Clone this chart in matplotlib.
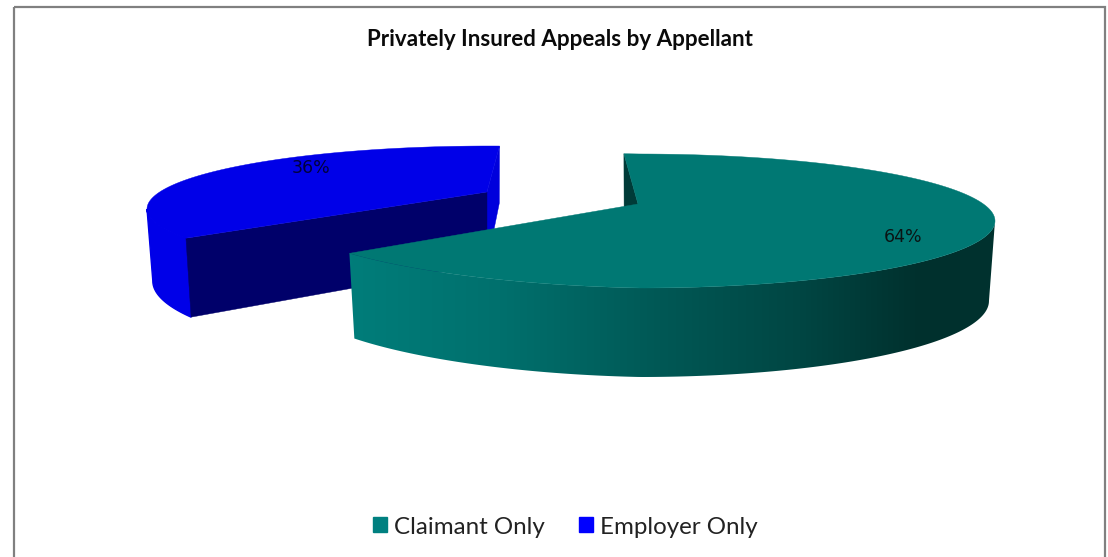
"""Privately insured appeals, 3D looking pie
"""
import numpy as np
import matplotlib
matplotlib.use('Agg')
import matplotlib.pyplot as plt
from matplotlib.patches import Patch, Polygon, Rectangle

categories = ['Claimant Only', 'Employer Only']
shares = [64, 36]
title = 'Privately Insured Appeals by Appellant'

# Look of each slice (centre, radii, rotation of the rim, wall height)
claimant_style = dict(cx=640, cy=221, rx=355, ry=67, apex=(638, 204), start=-2.6, stretch=1.031,
                      wall_mid=80, wall_amp=9, apex_wall=75, left_lift=7.5)
employer_style = dict(cx=489, cy=209, rx=342, ry=63, apex=(487, 192), start=242.4, stretch=0.921,
                      wall_mid=72, wall_amp=15, apex_wall=72, left_lift=0)
shrink = 0.983

teal_top = '#007873'
teal_cut = '#003b38'
teal_legend = '#008080'
blue_top = '#0000e8'
blue_end = '#0000dc'
navy = '#00006a'

# shade of the teal wall along the screen x axis
shade_x = [340, 500, 660, 800, 920, 1000]
shade_g = [126, 112, 88, 70, 48, 50]


def span(share, s):
    return s['start'], s['start'] + share / 100 * 360 * s['stretch']


def top_rim(theta, s):
    t = np.radians(theta)
    lift = s['left_lift'] * np.clip(-np.sin(t), 0, None)
    return s['cx'] + s['rx'] * np.sin(t), s['cy'] - s['ry'] * np.cos(t) - lift


def low_rim(theta, s):
    t = np.radians(theta)
    x, y = top_rim(theta, s)
    return s['cx'] + s['rx'] * shrink * np.sin(t), y + s['wall_mid'] - s['wall_amp'] * np.cos(t)


def apex_low(s):
    return s['apex'][0], s['apex'][1] + s['apex_wall']


def wall_outline(th0, th1, s):
    th = np.linspace(th0, th1, 200)
    tx, ty = top_rim(th, s)
    bx, by = low_rim(th, s)
    return np.r_[tx, bx[::-1]], np.r_[ty, by[::-1]]


def flat_wall(ax, th0, th1, s, color):
    x, y = wall_outline(th0, th1, s)
    ax.fill(x, y, color=color, lw=1.0, zorder=2)


def shaded_wall(ax, th0, th1, s):
    x, y = wall_outline(th0, th1, s)
    columns = np.arange(shade_x[0], shade_x[-1])
    g = np.interp(columns, shade_x, shade_g) / 255
    grad = np.dstack([np.zeros_like(g), g, g - 3 / 255])
    im = ax.imshow(grad, extent=[shade_x[0], shade_x[-1], y.max() + 2, y.min() - 2],
                   aspect='auto', interpolation='bilinear', zorder=2)
    clip = Polygon(np.c_[x, y], closed=True, transform=ax.transData, fc='none', ec='none')
    ax.add_patch(clip)
    im.set_clip_path(clip)


def top_face(ax, th0, th1, s, color):
    th = np.linspace(th0, th1, 300)
    x, y = top_rim(th, s)
    ax.fill(np.r_[s['apex'][0], x], np.r_[s['apex'][1], y], color=color, lw=0.3, zorder=2)


def cut_face(ax, theta, s, color):
    tx, ty = top_rim(theta, s)
    bx, by = low_rim(theta, s)
    ax.fill([tx, s['apex'][0], apex_low(s)[0], bx], [ty, s['apex'][1], apex_low(s)[1], by],
            color=color, lw=0.3, zorder=2)


def main():
    fig, ax = plt.subplots(figsize=(11.08, 5.57), dpi=100)
    ax.set_position([0, 0, 1, 1])

    ax.add_patch(Rectangle((14, 7), 1091, 570, fill=False, ec='#808080', lw=1.6, zorder=1))

    # employer slice goes behind
    th0, th1 = span(shares[1], employer_style)
    flat_wall(ax, th0, 270, employer_style, blue_top)
    cut_face(ax, th1, employer_style, blue_end)
    cut_face(ax, th0, employer_style, navy)
    top_face(ax, th0, th1, employer_style, blue_top)

    # claimant slice in front
    th0, th1 = span(shares[0], claimant_style)
    cut_face(ax, th0, claimant_style, teal_cut)
    shaded_wall(ax, 90, th1, claimant_style)
    top_face(ax, th0, th1, claimant_style, teal_top)

    ax.set_xlim(0, 1108)
    ax.set_ylim(557, 0)
    ax.axis('off')

    ax.text(903, 237, '{}%'.format(shares[0]), ha='center', va='center', fontsize=12.5, color='#0a1414', zorder=3)
    ax.text(311, 168, '{}%'.format(shares[1]), ha='center', va='center', fontsize=12.5, color='#00003c', zorder=3)

    ax.text(559.5, 39, title, ha='center', va='center', fontsize=16.1, fontweight='bold',
            family='Lato', color='#0a0a0a')

    handles = [Patch(color=teal_legend), Patch(color='#0000ff')]
    ax.legend(handles, categories, ncol=2, loc='center', bbox_to_anchor=(565.5, 527),
              bbox_transform=ax.transData, frameon=False, handlelength=0.58, handleheight=0.58,
              handletextpad=0.29, columnspacing=1.4,
              prop={'family': 'Lato', 'size': 17.4}, labelcolor='#222222')

    plt.savefig('out.png', dpi=100)


if __name__ == '__main__':
    main()
